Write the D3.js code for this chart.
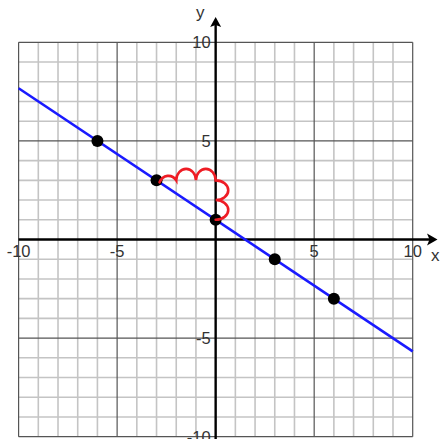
<!DOCTYPE html>
<html>
<head>
<meta charset="utf-8">
<script src="https://cdn.jsdelivr.net/npm/d3@7"></script>
<style>
	body { margin: 0; background: #fff; }
	text { font-family: "Liberation Sans", Arial, sans-serif; }
</style>
</head>
<body>
<svg id="chart" width="441" height="439"></svg>
<script>
// Data
var gridValues = d3.range(-10, 11),
	xTickLabels = [-10, -5, 5, 10],
	yTickLabels = [-10, -5, 5, 10],
	pointX = [-6, -3, 0, 3, 6],
	pointY = [5, 3, 1, -1, -3],
	lineX = [-10, 10],
	lineY = [7.67, -5.67];

// rise / run annotation between the 2nd and 3rd points
var runFrom = 1, runTo = 2;

var svg = d3.select('#chart');

var x = d3.scaleLinear().domain([-10, 10]).range([18.6, 412.7]),
	y = d3.scaleLinear().domain([-10, 10]).range([436.7, 42.3]);

var g = svg.append('g').attr('class', 'grid');

// minor grid
g.selectAll('.vminor')
	.data(gridValues.filter(function(d) { return d % 5 != 0; }))
	.enter().append('line')
	.attr('x1', function(d) { return x(d); })
	.attr('x2', function(d) { return x(d); })
	.attr('y1', y(10)).attr('y2', y(-10))
	.style('stroke', '#c4c4c4').style('stroke-width', 1.6);

g.selectAll('.hminor')
	.data(gridValues.filter(function(d) { return d % 5 != 0; }))
	.enter().append('line')
	.attr('y1', function(d) { return y(d); })
	.attr('y2', function(d) { return y(d); })
	.attr('x1', x(-10)).attr('x2', x(10))
	.style('stroke', '#c4c4c4').style('stroke-width', 1.6);

// major grid (every 5)
var major = gridValues.filter(function(d) { return d % 5 == 0 && d != 0; });
g.selectAll('.vmajor').data(major)
	.enter().append('line')
	.attr('x1', function(d) { return x(d); })
	.attr('x2', function(d) { return x(d); })
	.attr('y1', y(10)).attr('y2', y(-10))
	.style('stroke', '#555').style('stroke-width', 1.2);

g.selectAll('.hmajor').data(major)
	.enter().append('line')
	.attr('y1', function(d) { return y(d); })
	.attr('y2', function(d) { return y(d); })
	.attr('x1', x(-10)).attr('x2', x(10))
	.style('stroke', '#555').style('stroke-width', 1.2);

// axes with arrows
var axisColor = '#000';
svg.append('line')
	.attr('x1', x(-10)).attr('x2', 432)
	.attr('y1', y(0)).attr('y2', y(0))
	.style('stroke', axisColor).style('stroke-width', 2.4);
svg.append('line')
	.attr('x1', x(0)).attr('x2', x(0))
	.attr('y1', 439).attr('y2', 24)
	.style('stroke', axisColor).style('stroke-width', 2.4);

svg.append('path')
	.attr('d', 'M437.5,' + y(0) + ' L427,' + (y(0) - 6) + ' L429.5,' + y(0) + ' L427,' + (y(0) + 6) + ' Z')
	.style('fill', axisColor);
svg.append('path')
	.attr('d', 'M' + x(0) + ',17 L' + (x(0) - 5.5) + ',27 L' + x(0) + ',25 L' + (x(0) + 5.5) + ',27 Z')
	.style('fill', axisColor);

// tick labels
var labelColor = '#333';
svg.selectAll('.xlabel').data(xTickLabels)
	.enter().append('text')
	.attr('x', function(d) { return x(d); })
	.attr('y', y(0) + 17)
	.attr('text-anchor', 'middle')
	.style('font-size', '16.5px').style('fill', labelColor)
	.text(function(d) { return d; });

svg.selectAll('.ylabel').data(yTickLabels)
	.enter().append('text')
	.attr('x', x(0) - 5)
	.attr('y', function(d) { return y(d); })
	.attr('dy', '0.36em')
	.attr('text-anchor', 'end')
	.style('font-size', '16.5px').style('fill', labelColor)
	.text(function(d) { return d; });

svg.append('text').attr('x', 431).attr('y', 261)
	.style('font-size', '17px').style('fill', labelColor).text('x');
svg.append('text').attr('x', 196).attr('y', 18)
	.style('font-size', '17px').style('fill', labelColor).text('y');

// the line
var line = d3.line()
	.x(function(d) { return x(d[0]); })
	.y(function(d) { return y(d[1]); });

svg.append('path')
	.datum(lineX.map(function(d, i) { return [d, lineY[i]]; }))
	.attr('d', line)
	.style('fill', 'none')
	.style('stroke', '#1a1aff')
	.style('stroke-width', 2.6);

// points
svg.selectAll('.pt')
	.data(pointX.map(function(d, i) { return [d, pointY[i]]; }))
	.enter().append('circle')
	.attr('cx', function(d) { return x(d[0]); })
	.attr('cy', function(d) { return y(d[1]); })
	.attr('r', 6)
	.style('fill', '#000');

// red "run" bumps then "rise" bumps
var x0 = pointX[runFrom], y0 = pointY[runFrom],
	x1 = pointX[runTo], y1 = pointY[runTo];
var ux = x(1) - x(0), uy = y(0) - y(1);
var d = 'M' + (x(x0) + 3) + ',' + (y(y0) + 2);
for (var i = x0 + 1; i <= x1; i++) {
	var rx = (x(i) - x(i - 1)) / 2;
	d += ' A' + rx + ',' + (uy * 0.58) + ' 0 0 1 ' + x(i) + ',' + y(y0);
}
for (var j = y0 - 1; j >= y1; j--) {
	var ry = (y(j) - y(j + 1)) / 2;
	d += ' A' + (ux * 0.64) + ',' + ry + ' 0 0 1 ' + x(x1) + ',' + y(j);
}
svg.append('path')
	.attr('d', d)
	.style('fill', 'none')
	.style('stroke', '#ee1c24')
	.style('stroke-width', 2.6)
	.style('stroke-linecap', 'round');
</script>
</body>
</html>
